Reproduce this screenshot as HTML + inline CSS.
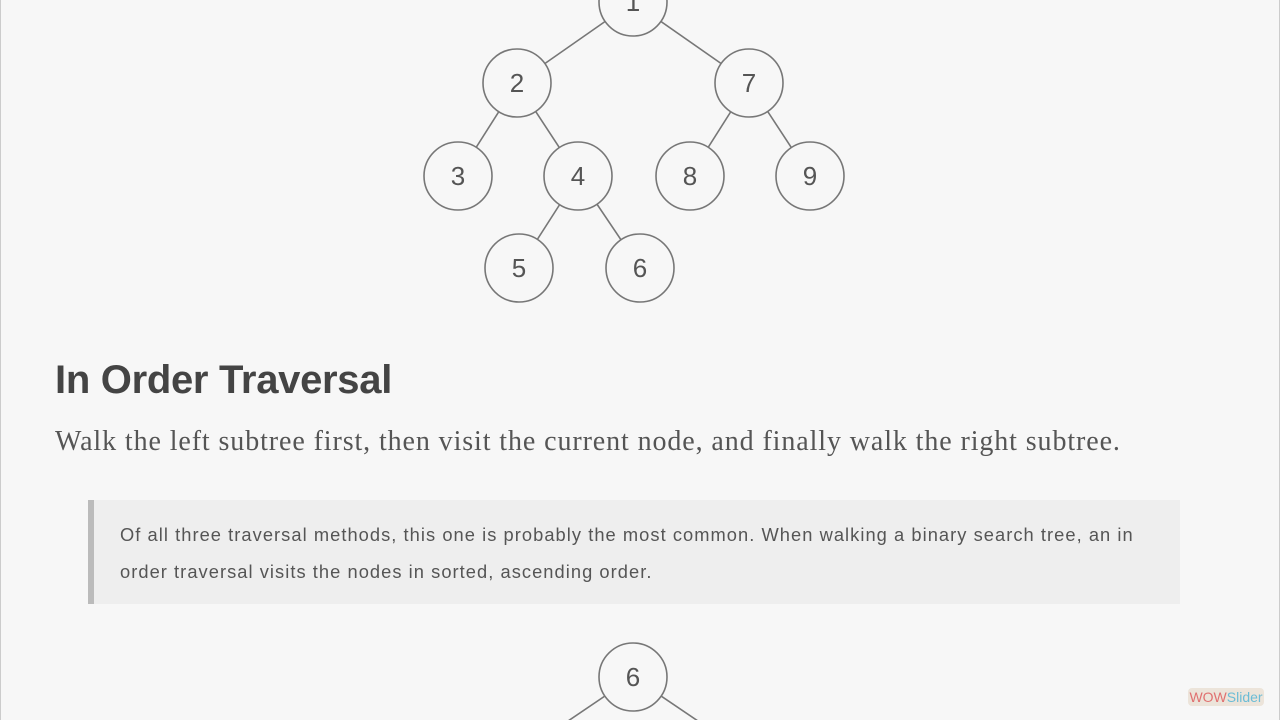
<!DOCTYPE html>
<html><head><meta charset="utf-8"><style>
body{margin:0;width:1280px;height:720px;overflow:hidden;background:#f7f7f7;position:relative;font-family:"Liberation Sans",sans-serif;}
.edge{position:absolute;top:0;bottom:0;width:1px;background:#ccc}
h2{position:absolute;left:55px;top:358px;margin:0;font-size:40px;font-weight:bold;color:#444;letter-spacing:-0.3px}
p.lead{position:absolute;left:55px;top:426px;margin:0;font-family:"Liberation Serif",serif;font-size:28px;letter-spacing:0.9px;color:#555;white-space:nowrap}
.bq{position:absolute;left:88px;top:500px;width:1086px;height:104px;background:#eeeeee;border-left:6px solid #bbb;}
.bq div{position:absolute;left:26px;top:16px;width:1040px;font-size:18.3px;line-height:37px;color:#555;letter-spacing:1.05px}
.wow{position:absolute;left:1188px;top:688px;width:76px;height:18px;background:#ece4da;border-radius:4px;font-size:14px;line-height:18px;text-align:center}
</style></head><body>
<div class="edge" style="left:0"></div><div class="edge" style="right:0"></div>
<svg width="1280" height="720" style="position:absolute;left:0;top:0">
<g stroke="#777" stroke-width="1.6" fill="none">
<line x1="633" y1="2" x2="517" y2="83"/><line x1="633" y1="2" x2="749" y2="83"/>
<line x1="517" y1="83" x2="458" y2="176"/><line x1="517" y1="83" x2="578" y2="176"/>
<line x1="749" y1="83" x2="690" y2="176"/><line x1="749" y1="83" x2="810" y2="176"/>
<line x1="578" y1="176" x2="519" y2="268"/><line x1="578" y1="176" x2="640" y2="268"/>
<line x1="633" y1="677" x2="540" y2="740"/><line x1="633" y1="677" x2="726" y2="740"/>
</g>
<g stroke="#777" stroke-width="1.6" fill="#f7f7f7">
<circle cx="633" cy="2" r="34"/><circle cx="517" cy="83" r="34"/><circle cx="749" cy="83" r="34"/>
<circle cx="458" cy="176" r="34"/><circle cx="578" cy="176" r="34"/><circle cx="690" cy="176" r="34"/><circle cx="810" cy="176" r="34"/>
<circle cx="519" cy="268" r="34"/><circle cx="640" cy="268" r="34"/><circle cx="633" cy="677" r="34"/>
</g>
<g font-family="Liberation Sans" font-size="26" fill="#555" text-anchor="middle">
<text x="633" y="11">1</text><text x="517" y="92">2</text><text x="749" y="92">7</text>
<text x="458" y="185">3</text><text x="578" y="185">4</text><text x="690" y="185">8</text><text x="810" y="185">9</text>
<text x="519" y="277">5</text><text x="640" y="277">6</text><text x="633" y="686">6</text>
</g></svg>
<h2>In Order Traversal</h2>
<p class="lead">Walk the left subtree first, then visit the current node, and finally walk the right subtree.</p>
<div class="bq"><div>Of all three traversal methods, this one is probably the most common. When walking a binary search tree, an in order traversal visits the nodes in sorted, ascending order.</div></div>
<div class="wow"><span style="color:#e07070">WOW</span><span style="color:#6bbcd6">Slider</span></div>
</body></html>
